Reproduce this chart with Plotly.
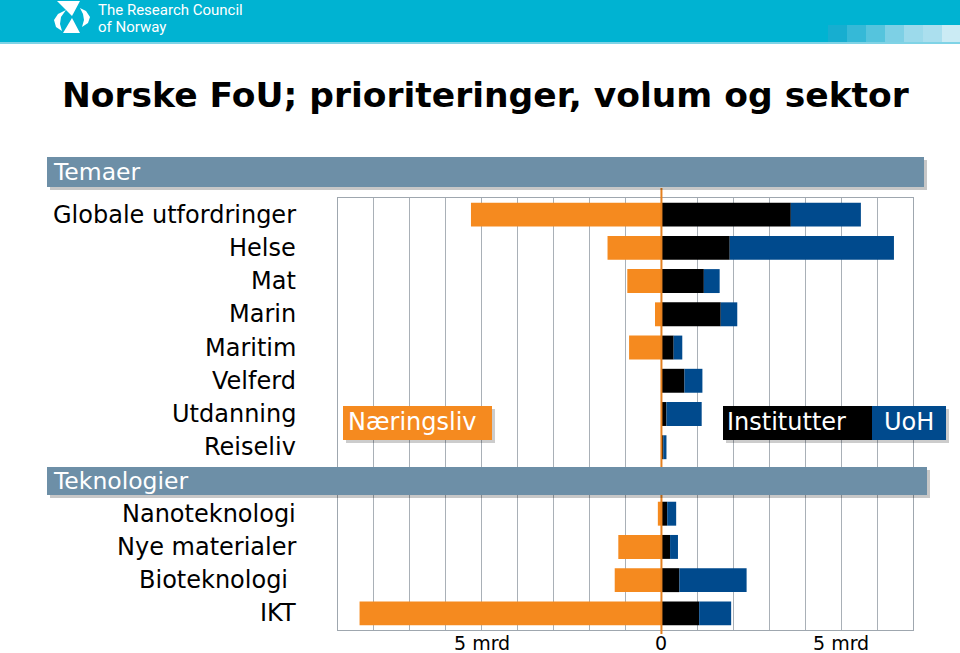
import plotly.graph_objects as go

# ---------------- data ----------------
categories = ["Globale utfordringer", "Helse", "Mat", "Marin", "Maritim", "Velferd",
              "Utdanning", "Reiseliv", "Nanoteknologi", "Nye materialer", "Bioteknologi", "IKT"]
naeringsliv = [5.3, 1.5, 0.95, 0.18, 0.9, 0.0, 0.0, 0.0, 0.1, 1.2, 1.3, 8.4]
institutter = [3.6, 1.9, 1.18, 1.65, 0.34, 0.64, 0.14, 0.05, 0.16, 0.24, 0.5, 1.05]
uoh = [1.95, 4.57, 0.44, 0.46, 0.24, 0.5, 0.98, 0.09, 0.25, 0.22, 1.87, 0.89]
spacer = " "
row_order = categories[:8] + [spacer] + categories[8:]
label_text = {c: c for c in categories}
label_text["Bioteknologi"] = "Bioteknologi\u00a0"
section_titles = ["Temaer", "Teknologier"]
tick_vals = [-5, 0, 5]
tick_text = ["5 mrd", "0", "5 mrd"]
legend_names = ["Næringsliv", "Institutter", "UoH"]

ORANGE = "#F58A1F"
BLACK = "#000000"
BLUE = "#004A8D"
BAND = "#6D8FA7"

W, H = 960, 653
L, R, T, B = 338, 913, 198, 630


def px(x):
    return (x - L) / (R - L)


def py(y):
    return 1 - (y - T) / (B - T)


fig = go.Figure()
fig.add_trace(go.Bar(y=categories, x=[-v for v in naeringsliv], orientation="h",
                     marker=dict(color=ORANGE, line=dict(width=0)), name=legend_names[0],
                     customdata=naeringsliv, hovertemplate="%{y}: %{customdata} mrd<extra>Næringsliv</extra>"))
fig.add_trace(go.Bar(y=categories, x=institutter, orientation="h",
                     marker=dict(color=BLACK, line=dict(width=0)), name=legend_names[1]))
fig.add_trace(go.Bar(y=categories, x=uoh, orientation="h",
                     marker=dict(color=BLUE, line=dict(width=0)), name=legend_names[2]))

shapes = []
ann = []

# header bar
shapes.append(dict(type="rect", xref="paper", yref="paper", x0=px(0), x1=px(W), y0=py(0), y1=py(42),
                   fillcolor="#00B3D2", line=dict(width=0), layer="above"))
shapes.append(dict(type="rect", xref="paper", yref="paper", x0=px(0), x1=px(W), y0=py(42), y1=py(44),
                   fillcolor="#7FD3E6", line=dict(width=0), layer="above"))
grad = ["#17AED0", "#35B9D7", "#55C4DD", "#7DD0E5", "#9CDAEB", "#ABDFEE", "#CBEBF4"]
for i, c in enumerate(grad):
    x0 = 828 + i * 19
    shapes.append(dict(type="rect", xref="paper", yref="paper", x0=px(x0), x1=px(x0 + 19),
                       y0=py(25), y1=py(42), fillcolor=c, line=dict(width=0), layer="above"))


def path(points):
    s = "M " + " L ".join(f"{px(x):.5f},{py(y):.5f}" for x, y in points) + " Z"
    return s


# logo (approximation)
shapes.append(dict(type="path", xref="paper", yref="paper", layer="above",
                   path=path([(57, 1), (80, 1), (72, 16)]), fillcolor="white", line=dict(width=0)))
shapes.append(dict(type="path", xref="paper", yref="paper", layer="above",
                   path=path([(72, 18), (63, 33), (80, 33)]), fillcolor="white", line=dict(width=0)))
shapes.append(dict(type="path", xref="paper", yref="paper", layer="above",
                   path=path([(66, 10), (58, 14), (54, 20), (56, 27), (62, 31), (60, 24), (61, 17)]),
                   fillcolor="white", line=dict(width=0)))
shapes.append(dict(type="path", xref="paper", yref="paper", layer="above",
                   path=path([(80, 8), (86, 11), (90, 17), (88, 23), (82, 27), (84, 20), (83, 14)]),
                   fillcolor="white", line=dict(width=0)))
ann.append(dict(xref="paper", yref="paper", x=px(96), y=py(10), text="The Research Council",
                showarrow=False, xanchor="left", yanchor="middle",
                font=dict(family="Roboto", size=15, color="white")))
ann.append(dict(xref="paper", yref="paper", x=px(96), y=py(27), text="of Norway",
                showarrow=False, xanchor="left", yanchor="middle",
                font=dict(family="Roboto", size=15, color="white")))

# title
ann.append(dict(xref="paper", yref="paper", x=px(485), y=py(95),
                text="<b>Norske FoU; prioriteringer, volum og sektor</b>",
                showarrow=False, xanchor="center", yanchor="middle",
                font=dict(family="DejaVu Sans", size=34.5, color="black")))

# zero line
shapes.append(dict(type="line", xref="x", yref="paper", x0=0, x1=0, y0=py(188), y1=py(634),
                   line=dict(color="#E5801F", width=2), layer="above"))

# section bands with shadow
for (y0, y1, xr), title in zip([(157, 187, 924), (467, 495, 927)], section_titles):
    shapes.append(dict(type="rect", xref="paper", yref="paper", x0=px(50), x1=px(xr + 3),
                       y0=py(y0 + 3), y1=py(y1 + 3), fillcolor="rgba(0,0,0,0.22)",
                       line=dict(width=0), layer="above"))
    shapes.append(dict(type="rect", xref="paper", yref="paper", x0=px(47), x1=px(xr),
                       y0=py(y0), y1=py(y1), fillcolor=BAND, line=dict(width=0), layer="above"))
    ann.append(dict(xref="paper", yref="paper", x=px(51), y=py((y0 + y1) / 2), text=title,
                    showarrow=False, xanchor="left", yanchor="middle",
                    font=dict(family="DejaVu Sans", size=23.5, color="white")))

# row labels
for c in categories:
    ann.append(dict(xref="paper", yref="y", x=px(298), y=c, text=label_text[c],
                    showarrow=False, xanchor="right", yanchor="middle",
                    font=dict(family="DejaVu Sans", size=24, color="black")))

# x tick labels (as annotations placed on the data axis)
for v, t in zip(tick_vals, tick_text):
    ann.append(dict(xref="x", yref="paper", x=v, y=py(643), text=t, showarrow=False,
                    xanchor="center", yanchor="middle",
                    font=dict(family="DejaVu Sans", size=19, color="black")))

# legend boxes
legend_boxes = [(343, 492, ORANGE, 346), (723, 872, BLACK, 725), (872, 946, BLUE, 882)]
for (x0, x1, col, tx), name in zip(legend_boxes, legend_names):
    shapes.append(dict(type="rect", xref="paper", yref="paper", x0=px(x0 + 3), x1=px(x1 + 3),
                       y0=py(409), y1=py(443), fillcolor="rgba(0,0,0,0.2)", line=dict(width=0),
                       layer="above"))
for (x0, x1, col, tx), name in zip(legend_boxes, legend_names):
    shapes.append(dict(type="rect", xref="paper", yref="paper", x0=px(x0), x1=px(x1),
                       y0=py(406), y1=py(440), fillcolor=col, line=dict(width=0), layer="above"))
    ann.append(dict(xref="paper", yref="paper", x=px(tx), y=py(422), text=name,
                    showarrow=False, xanchor="left", yanchor="middle",
                    font=dict(family="DejaVu Sans", size=24, color="white")))

fig.update_layout(
    width=W, height=H,
    margin=dict(l=L, r=W - R, t=T, b=H - B, autoexpand=False),
    paper_bgcolor="white", plot_bgcolor="white",
    barmode="relative", bargap=0.28,
    showlegend=False,
    shapes=shapes, annotations=ann,
    font=dict(family="DejaVu Sans", color="black"),
    xaxis=dict(range=[-9, 7], dtick=1, tick0=0, showgrid=True, gridcolor="#A9B0B7", gridwidth=1,
               zeroline=False, showline=True, mirror=True, linecolor="#9FA7AF", linewidth=1,
               showticklabels=False, ticks="", automargin=False),
    yaxis=dict(type="category", categoryorder="array", categoryarray=row_order,
               autorange="reversed", showticklabels=False, showgrid=False, zeroline=False,
               showline=True, mirror=True, linecolor="#9FA7AF", linewidth=1, ticks="",
               automargin=False),
)

fig.write_html("out.html", config={"displayModeBar": False},
               post_script="document.body.style.margin='0';")
